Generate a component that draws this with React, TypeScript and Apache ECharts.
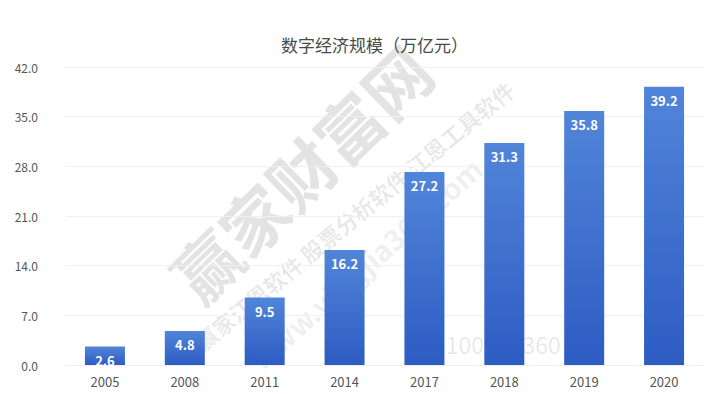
import React, { useEffect, useRef } from "react";
import * as echarts from "echarts";

const categories = ["2005", "2008", "2011", "2014", "2017", "2018", "2019", "2020"];
const values = [2.6, 4.8, 9.5, 16.2, 27.2, 31.3, 35.8, 39.2];
const yTicks = { min: 0, max: 42, interval: 7 };
const titleText = "数字经济规模（万亿元）";
const watermarkBig = "赢家财富网";
const watermarkLine = "赢家江恩软件 股票分析软件 江恩工具软件";
const watermarkUrl = "www.yingjia360.com";
const watermarkQQ = "QQ:100800360";

export default function App() {
  const ref = useRef<HTMLDivElement>(null);
  useEffect(() => {
    if (!ref.current) return;
    const chart = echarts.init(ref.current, undefined, { renderer: "svg" });
    const font = "'Noto Sans CJK SC', 'Noto Sans', sans-serif";
    chart.setOption({
      animation: false,
      backgroundColor: "#ffffff",
      title: {
        text: titleText,
        left: 276,
        top: 31,
        textStyle: { fontSize: 17, fontWeight: "normal", color: "#4a4a4a", fontFamily: font },
      },
      grid: { left: 65, right: -12, top: 67, bottom: 29, containLabel: false },
      xAxis: {
        type: "category",
        data: categories,
        axisLine: { show: true, lineStyle: { color: "#eeeeee" } },
        axisTick: { show: false },
        axisLabel: { color: "#555555", fontSize: 13, margin: 10, fontFamily: font },
      },
      yAxis: {
        type: "value",
        min: yTicks.min,
        max: yTicks.max,
        interval: yTicks.interval,
        axisLine: { show: false },
        axisTick: { show: false },
        splitLine: { lineStyle: { color: "#f0f0f0" } },
        axisLabel: {
          color: "#555555",
          fontSize: 12,
          margin: 27,
          fontFamily: font,
          formatter: (v: number) => v.toFixed(1),
        },
      },
      graphic: [
        {
          type: "text",
          x: 300,
          y: 172,
          rotation: 0.77,
          z: 0,
          style: {
            text: watermarkBig,
            fontSize: 66,
            fontWeight: "bold",
            fill: "rgba(0,0,0,0.11)",
            align: "center",
            verticalAlign: "middle",
            fontFamily: font,
          },
        },
        {
          type: "text",
          x: 354,
          y: 215,
          rotation: 0.69,
          z: 0,
          style: {
            text: watermarkLine,
            fontSize: 22,
            fontWeight: "bold",
            fill: "rgba(0,0,0,0.09)",
            align: "center",
            verticalAlign: "middle",
            fontFamily: font,
          },
        },
        {
          type: "text",
          x: 365,
          y: 263,
          rotation: 0.73,
          z: 0,
          style: {
            text: watermarkUrl,
            fontSize: 29,
            fontWeight: "bold",
            fill: "rgba(0,0,0,0.08)",
            align: "center",
            verticalAlign: "middle",
            fontFamily: font,
          },
        },
        {
          type: "text",
          x: 483,
          y: 344,
          z: 0,
          style: {
            text: watermarkQQ,
            fontSize: 23,
            fill: "rgba(0,0,0,0.1)",
            align: "center",
            verticalAlign: "middle",
            fontFamily: font,
          },
        },
      ],
      series: [
        {
          type: "bar",
          data: values,
          barWidth: 40,
          z: 5,
          itemStyle: {
            color: new echarts.graphic.LinearGradient(0, 0, 0, 1, [
              { offset: 0, color: "#5185d9" },
              { offset: 1, color: "#2d5cc3" },
            ]),
          },
          label: {
            show: true,
            position: "insideTop",
            distance: 7,
            color: "#ffffff",
            fontSize: 13,
            fontWeight: "bold",
            fontFamily: font,
            formatter: (p: any) => Number(p.value).toFixed(1),
          },
        },
      ],
    });
    return () => chart.dispose();
  }, []);
  return <div ref={ref} style={{ width: 704, height: 394, position: "absolute", left: 0, top: 0 }} />;
}
